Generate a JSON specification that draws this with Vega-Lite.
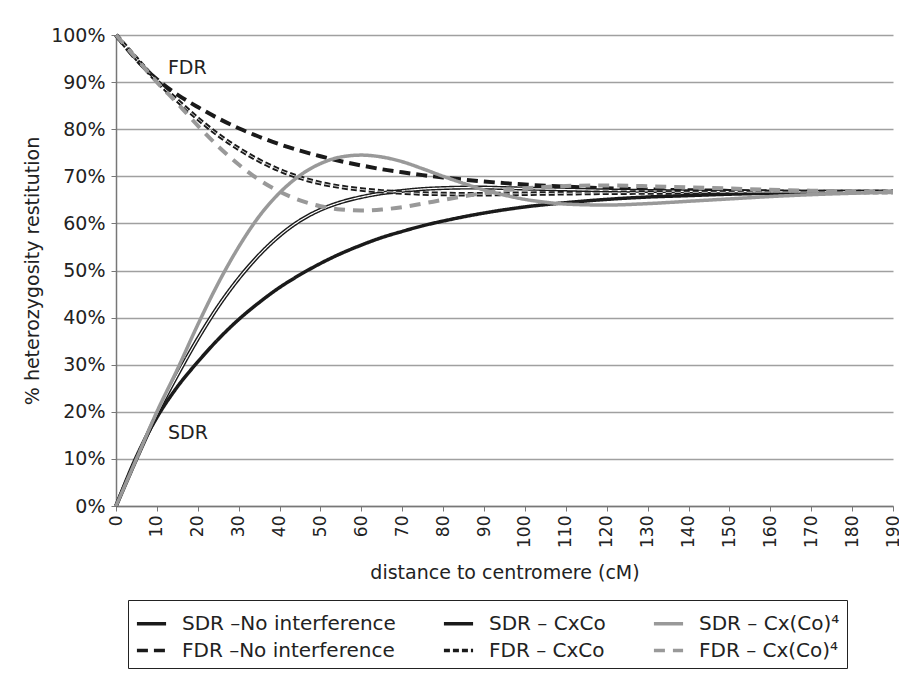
{
"$schema": "https://vega.github.io/schema/vega-lite/v6.json",
"width": 777, "height": 471,
"autosize": {"type": "none"},
"padding": {"left": 116, "top": 35, "right": 6, "bottom": 173},
"background": "white",
"config": {"font": "DejaVu Sans", "view": {"stroke": null}},
"datasets": {
"notes": [{"label": "FDR", "d": 12.7, "v": 0.93}, {"label": "SDR", "d": 12.7, "v": 0.155}],
"curves": [
{"d":0,"s":"SDR –No interference","v":0},{"d":5,"s":"SDR –No interference","v":0.105},{"d":10,"s":"SDR –No interference","v":0.188},{"d":15,"s":"SDR –No interference","v":0.253},{"d":20,"s":"SDR –No interference","v":0.306},{"d":25,"s":"SDR –No interference","v":0.354},{"d":30,"s":"SDR –No interference","v":0.396},{"d":35,"s":"SDR –No interference","v":0.432},{"d":40,"s":"SDR –No interference","v":0.464},{"d":45,"s":"SDR –No interference","v":0.491},{"d":50,"s":"SDR –No interference","v":0.515},{"d":55,"s":"SDR –No interference","v":0.536},{"d":60,"s":"SDR –No interference","v":0.554},{"d":65,"s":"SDR –No interference","v":0.570},{"d":70,"s":"SDR –No interference","v":0.583},{"d":75,"s":"SDR –No interference","v":0.595},{"d":80,"s":"SDR –No interference","v":0.605},{"d":85,"s":"SDR –No interference","v":0.614},{"d":90,"s":"SDR –No interference","v":0.622},{"d":95,"s":"SDR –No interference","v":0.629},{"d":100,"s":"SDR –No interference","v":0.635},{"d":110,"s":"SDR –No interference","v":0.644},{"d":120,"s":"SDR –No interference","v":0.651},{"d":130,"s":"SDR –No interference","v":0.656},{"d":140,"s":"SDR –No interference","v":0.659},{"d":150,"s":"SDR –No interference","v":0.662},{"d":160,"s":"SDR –No interference","v":0.664},{"d":170,"s":"SDR –No interference","v":0.665},{"d":180,"s":"SDR –No interference","v":0.666},{"d":190,"s":"SDR –No interference","v":0.666},
{"d":0,"s":"FDR –No interference","v":1},{"d":5,"s":"FDR –No interference","v":0.9475},{"d":10,"s":"FDR –No interference","v":0.906},{"d":15,"s":"FDR –No interference","v":0.8735},{"d":20,"s":"FDR –No interference","v":0.847},{"d":25,"s":"FDR –No interference","v":0.823},{"d":30,"s":"FDR –No interference","v":0.802},{"d":35,"s":"FDR –No interference","v":0.784},{"d":40,"s":"FDR –No interference","v":0.768},{"d":45,"s":"FDR –No interference","v":0.7545},{"d":50,"s":"FDR –No interference","v":0.7425},{"d":55,"s":"FDR –No interference","v":0.732},{"d":60,"s":"FDR –No interference","v":0.723},{"d":65,"s":"FDR –No interference","v":0.715},{"d":70,"s":"FDR –No interference","v":0.7085},{"d":75,"s":"FDR –No interference","v":0.7025},{"d":80,"s":"FDR –No interference","v":0.6975},{"d":85,"s":"FDR –No interference","v":0.693},{"d":90,"s":"FDR –No interference","v":0.689},{"d":95,"s":"FDR –No interference","v":0.6855},{"d":100,"s":"FDR –No interference","v":0.6825},{"d":110,"s":"FDR –No interference","v":0.678},{"d":120,"s":"FDR –No interference","v":0.6745},{"d":130,"s":"FDR –No interference","v":0.672},{"d":140,"s":"FDR –No interference","v":0.6705},{"d":150,"s":"FDR –No interference","v":0.669},{"d":160,"s":"FDR –No interference","v":0.668},{"d":170,"s":"FDR –No interference","v":0.6675},{"d":180,"s":"FDR –No interference","v":0.667},{"d":190,"s":"FDR –No interference","v":0.667},
{"d":0,"s":"SDR – CxCo","v":0},{"d":5,"s":"SDR – CxCo","v":0.100},{"d":10,"s":"SDR – CxCo","v":0.195},{"d":15,"s":"SDR – CxCo","v":0.278},{"d":20,"s":"SDR – CxCo","v":0.355},{"d":25,"s":"SDR – CxCo","v":0.424},{"d":30,"s":"SDR – CxCo","v":0.483},{"d":35,"s":"SDR – CxCo","v":0.533},{"d":40,"s":"SDR – CxCo","v":0.574},{"d":45,"s":"SDR – CxCo","v":0.606},{"d":50,"s":"SDR – CxCo","v":0.629},{"d":55,"s":"SDR – CxCo","v":0.645},{"d":60,"s":"SDR – CxCo","v":0.656},{"d":65,"s":"SDR – CxCo","v":0.664},{"d":70,"s":"SDR – CxCo","v":0.669},{"d":75,"s":"SDR – CxCo","v":0.673},{"d":80,"s":"SDR – CxCo","v":0.675},{"d":85,"s":"SDR – CxCo","v":0.676},{"d":90,"s":"SDR – CxCo","v":0.676},{"d":95,"s":"SDR – CxCo","v":0.675},{"d":100,"s":"SDR – CxCo","v":0.674},{"d":110,"s":"SDR – CxCo","v":0.672},{"d":120,"s":"SDR – CxCo","v":0.670},{"d":130,"s":"SDR – CxCo","v":0.669},{"d":140,"s":"SDR – CxCo","v":0.668},{"d":150,"s":"SDR – CxCo","v":0.6675},{"d":160,"s":"SDR – CxCo","v":0.667},{"d":170,"s":"SDR – CxCo","v":0.667},{"d":180,"s":"SDR – CxCo","v":0.667},{"d":190,"s":"SDR – CxCo","v":0.667},
{"d":0,"s":"FDR – CxCo","v":1},{"d":5,"s":"FDR – CxCo","v":0.95},{"d":10,"s":"FDR – CxCo","v":0.9025},{"d":15,"s":"FDR – CxCo","v":0.861},{"d":20,"s":"FDR – CxCo","v":0.8225},{"d":25,"s":"FDR – CxCo","v":0.788},{"d":30,"s":"FDR – CxCo","v":0.7585},{"d":35,"s":"FDR – CxCo","v":0.7335},{"d":40,"s":"FDR – CxCo","v":0.713},{"d":45,"s":"FDR – CxCo","v":0.697},{"d":50,"s":"FDR – CxCo","v":0.6855},{"d":55,"s":"FDR – CxCo","v":0.6775},{"d":60,"s":"FDR – CxCo","v":0.672},{"d":65,"s":"FDR – CxCo","v":0.668},{"d":70,"s":"FDR – CxCo","v":0.6655},{"d":75,"s":"FDR – CxCo","v":0.6635},{"d":80,"s":"FDR – CxCo","v":0.6625},{"d":85,"s":"FDR – CxCo","v":0.662},{"d":90,"s":"FDR – CxCo","v":0.662},{"d":95,"s":"FDR – CxCo","v":0.6625},{"d":100,"s":"FDR – CxCo","v":0.663},{"d":110,"s":"FDR – CxCo","v":0.664},{"d":120,"s":"FDR – CxCo","v":0.665},{"d":130,"s":"FDR – CxCo","v":0.6655},{"d":140,"s":"FDR – CxCo","v":0.666},{"d":150,"s":"FDR – CxCo","v":0.666},{"d":160,"s":"FDR – CxCo","v":0.6665},{"d":170,"s":"FDR – CxCo","v":0.6665},{"d":180,"s":"FDR – CxCo","v":0.6665},{"d":190,"s":"FDR – CxCo","v":0.6665},
{"d":0,"s":"SDR – Cx(Co)⁴","v":0},{"d":5,"s":"SDR – Cx(Co)⁴","v":0.100},{"d":10,"s":"SDR – Cx(Co)⁴","v":0.200},{"d":15,"s":"SDR – Cx(Co)⁴","v":0.290},{"d":20,"s":"SDR – Cx(Co)⁴","v":0.385},{"d":25,"s":"SDR – Cx(Co)⁴","v":0.473},{"d":30,"s":"SDR – Cx(Co)⁴","v":0.550},{"d":35,"s":"SDR – Cx(Co)⁴","v":0.615},{"d":40,"s":"SDR – Cx(Co)⁴","v":0.665},{"d":45,"s":"SDR – Cx(Co)⁴","v":0.702},{"d":50,"s":"SDR – Cx(Co)⁴","v":0.727},{"d":55,"s":"SDR – Cx(Co)⁴","v":0.741},{"d":60,"s":"SDR – Cx(Co)⁴","v":0.745},{"d":65,"s":"SDR – Cx(Co)⁴","v":0.741},{"d":70,"s":"SDR – Cx(Co)⁴","v":0.731},{"d":75,"s":"SDR – Cx(Co)⁴","v":0.716},{"d":80,"s":"SDR – Cx(Co)⁴","v":0.700},{"d":85,"s":"SDR – Cx(Co)⁴","v":0.685},{"d":90,"s":"SDR – Cx(Co)⁴","v":0.671},{"d":95,"s":"SDR – Cx(Co)⁴","v":0.660},{"d":100,"s":"SDR – Cx(Co)⁴","v":0.651},{"d":105,"s":"SDR – Cx(Co)⁴","v":0.645},{"d":110,"s":"SDR – Cx(Co)⁴","v":0.641},{"d":120,"s":"SDR – Cx(Co)⁴","v":0.639},{"d":130,"s":"SDR – Cx(Co)⁴","v":0.642},{"d":140,"s":"SDR – Cx(Co)⁴","v":0.647},{"d":150,"s":"SDR – Cx(Co)⁴","v":0.652},{"d":160,"s":"SDR – Cx(Co)⁴","v":0.657},{"d":170,"s":"SDR – Cx(Co)⁴","v":0.661},{"d":180,"s":"SDR – Cx(Co)⁴","v":0.664},{"d":190,"s":"SDR – Cx(Co)⁴","v":0.666},
{"d":0,"s":"FDR – Cx(Co)⁴","v":1},{"d":5,"s":"FDR – Cx(Co)⁴","v":0.95},{"d":10,"s":"FDR – Cx(Co)⁴","v":0.90},{"d":15,"s":"FDR – Cx(Co)⁴","v":0.855},{"d":20,"s":"FDR – Cx(Co)⁴","v":0.8075},{"d":25,"s":"FDR – Cx(Co)⁴","v":0.7635},{"d":30,"s":"FDR – Cx(Co)⁴","v":0.725},{"d":35,"s":"FDR – Cx(Co)⁴","v":0.6925},{"d":40,"s":"FDR – Cx(Co)⁴","v":0.6675},{"d":45,"s":"FDR – Cx(Co)⁴","v":0.649},{"d":50,"s":"FDR – Cx(Co)⁴","v":0.6365},{"d":55,"s":"FDR – Cx(Co)⁴","v":0.6295},{"d":60,"s":"FDR – Cx(Co)⁴","v":0.6275},{"d":65,"s":"FDR – Cx(Co)⁴","v":0.6295},{"d":70,"s":"FDR – Cx(Co)⁴","v":0.6345},{"d":75,"s":"FDR – Cx(Co)⁴","v":0.642},{"d":80,"s":"FDR – Cx(Co)⁴","v":0.65},{"d":85,"s":"FDR – Cx(Co)⁴","v":0.6575},{"d":90,"s":"FDR – Cx(Co)⁴","v":0.6645},{"d":95,"s":"FDR – Cx(Co)⁴","v":0.67},{"d":100,"s":"FDR – Cx(Co)⁴","v":0.6745},{"d":105,"s":"FDR – Cx(Co)⁴","v":0.6775},{"d":110,"s":"FDR – Cx(Co)⁴","v":0.6795},{"d":120,"s":"FDR – Cx(Co)⁴","v":0.6805},{"d":130,"s":"FDR – Cx(Co)⁴","v":0.679},{"d":140,"s":"FDR – Cx(Co)⁴","v":0.6765},{"d":150,"s":"FDR – Cx(Co)⁴","v":0.674},{"d":160,"s":"FDR – Cx(Co)⁴","v":0.6715},{"d":170,"s":"FDR – Cx(Co)⁴","v":0.6695},{"d":180,"s":"FDR – Cx(Co)⁴","v":0.668},{"d":190,"s":"FDR – Cx(Co)⁴","v":0.667}
]
},
"layer": [
{
"data": {"name": "curves"},
"encoding": {
"x": {"field": "d", "type": "quantitative",
"scale": {"domain": [0, 190], "nice": false, "zero": true},
"axis": {"values": [0,10,20,30,40,50,60,70,80,90,100,110,120,130,140,150,160,170,180,190],
"labelAngle": -90, "labelAlign": "right", "labelBaseline": "middle", "labelPadding": 4,
"labelFontSize": 17, "labelColor": "#222", "labelFlush": false, "labelOverlap": false,
"tickSize": 5, "tickColor": "#777", "domainColor": "#777", "domainWidth": 1.5, "grid": false,
"title": "distance to centromere (cM)", "titleFontSize": 19, "titleFontWeight": "normal", "titleColor": "#222", "titlePadding": 16}},
"y": {"field": "v", "type": "quantitative",
"scale": {"domain": [0, 1], "nice": false},
"axis": {"values": [0,0.1,0.2,0.3,0.4,0.5,0.6,0.7,0.8,0.9,1], "format": ".0%",
"labelFontSize": 19, "labelColor": "#222", "labelPadding": 6, "labelFlush": false,
"tickSize": 5, "tickColor": "#777", "domainColor": "#777", "domainWidth": 1.5,
"grid": true, "gridColor": "#a0a0a0", "gridWidth": 1.5,
"title": "% heterozygosity restitution", "titleFontSize": 19, "titleFontWeight": "normal", "titleColor": "#222", "titlePadding": 8}},
"color": {"field": "s", "type": "nominal",
"scale": {"domain": ["SDR –No interference", "FDR –No interference", "SDR – CxCo", "FDR – CxCo", "SDR – Cx(Co)⁴", "FDR – Cx(Co)⁴"],
"range": ["#1a1a1a", "#1a1a1a", "#1a1a1a", "#1a1a1a", "#999999", "#999999"]},
"legend": {"orient": "none", "legendX": 12, "legendY": 565, "columns": 3, "title": null, "symbolType": "stroke", "symbolSize": 850, "symbolStrokeWidth": 3.5, "labelFontSize": 20, "labelColor": "#222", "labelLimit": 400, "labelOffset": 14, "strokeColor": "#222", "padding": 7, "columnPadding": 40, "rowPadding": 0}},
"strokeDash": {"field": "s", "type": "nominal",
"scale": {"domain": ["SDR –No interference", "FDR –No interference", "SDR – CxCo", "FDR – CxCo", "SDR – Cx(Co)⁴", "FDR – Cx(Co)⁴"],
"range": [[1, 0], [11, 6], [1, 0], [6, 3], [1, 0], [11, 8]]},
"legend": {"orient": "none", "legendX": 12, "legendY": 565, "columns": 3, "title": null, "symbolType": "stroke", "symbolSize": 850, "symbolStrokeWidth": 3.5, "labelFontSize": 20, "labelColor": "#222", "labelLimit": 400, "labelOffset": 14, "strokeColor": "#222", "padding": 7, "columnPadding": 40, "rowPadding": 0}}
},
"layer": [
{"transform": [{"filter": {"field": "s", "equal": "SDR –No interference"}}], "mark": {"type": "line", "interpolate": "monotone", "strokeWidth": 3.5}},
{"transform": [{"filter": {"field": "s", "equal": "FDR –No interference"}}], "mark": {"type": "line", "interpolate": "monotone", "strokeWidth": 4}},
{"transform": [{"filter": {"field": "s", "equal": "SDR – CxCo"}}], "mark": {"type": "line", "interpolate": "monotone", "strokeWidth": 4}},
{"transform": [{"filter": {"field": "s", "equal": "SDR – CxCo"}}], "mark": {"type": "line", "interpolate": "monotone", "strokeWidth": 1.2, "color": "white"}, "encoding": {"color": {"value": "white"}}},
{"transform": [{"filter": {"field": "s", "equal": "FDR – CxCo"}}], "mark": {"type": "line", "interpolate": "monotone", "strokeWidth": 4.5}},
{"transform": [{"filter": {"field": "s", "equal": "FDR – CxCo"}}], "mark": {"type": "line", "interpolate": "monotone", "strokeWidth": 0.8, "color": "white"}, "encoding": {"color": {"value": "white"}}},
{"transform": [{"filter": {"field": "s", "equal": "SDR – Cx(Co)⁴"}}], "mark": {"type": "line", "interpolate": "monotone", "strokeWidth": 3.5}},
{"transform": [{"filter": {"field": "s", "equal": "FDR – Cx(Co)⁴"}}], "mark": {"type": "line", "interpolate": "monotone", "strokeWidth": 4}}
]
},
{
"data": {"name": "notes"},
"mark": {"type": "text", "align": "left", "baseline": "middle", "fontSize": 19, "color": "#222"},
"encoding": {
"x": {"field": "d", "type": "quantitative"},
"y": {"field": "v", "type": "quantitative"},
"text": {"field": "label", "type": "nominal"}
}
}
]
}
